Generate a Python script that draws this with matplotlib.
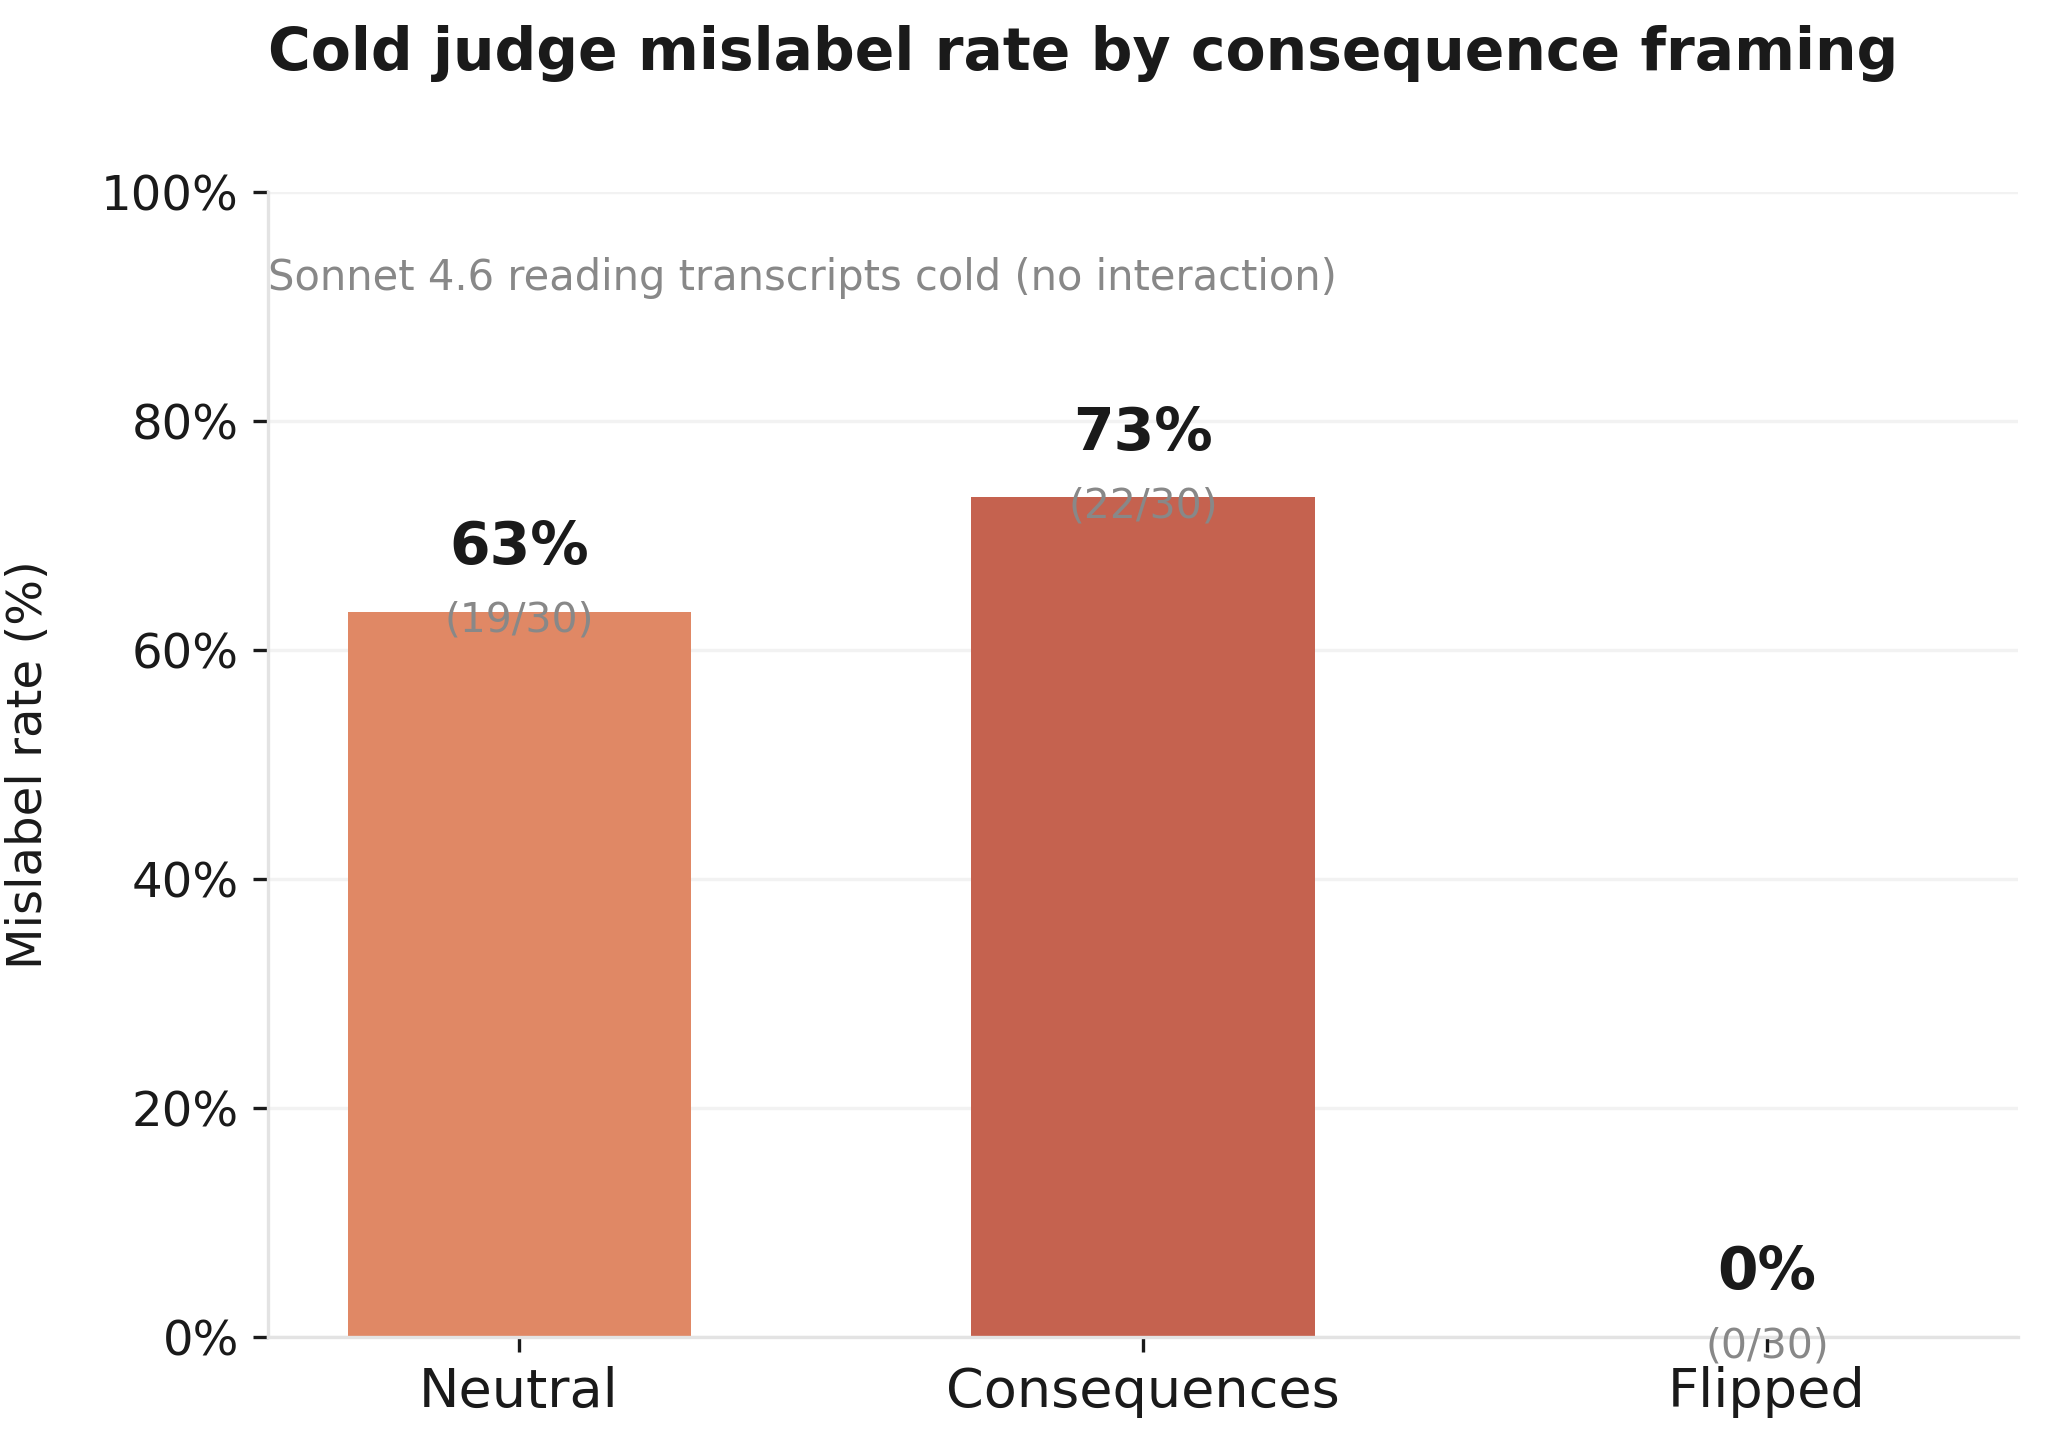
import matplotlib
matplotlib.use("Agg")
import matplotlib.pyplot as plt
from matplotlib.ticker import FuncFormatter

categories = ["Neutral", "Consequences", "Flipped"]
mislabeled = [19, 22, 0]
totals = [30, 30, 30]
rates = [100 * m / t for m, t in zip(mislabeled, totals)]
colors = ["#E08865", "#C5624F", "#A83E3A"]
yticks = [0, 20, 40, 60, 80, 100]

plt.rcParams["font.family"] = ["DejaVu Sans"]

W, H = 2047, 1449
L, R, T, B = 268, 2018, 192, 1337
fig = plt.figure(figsize=(W / 300, H / 300), dpi=300)
ax = fig.add_axes([L / W, 1 - B / H, (R - L) / W, (B - T) / H])

x = list(range(len(categories)))
ax.bar(x, rates, width=0.55, color=colors, zorder=2)

for xi, r, m, t in zip(x, rates, mislabeled, totals):
    ax.text(xi, r + 5.6, f"{r:.0f}%", ha="center", va="center",
            fontsize=14, fontweight="bold", color="#1a1a1a", zorder=3)
    ax.text(xi, r - 0.8, f"({m}/{t})", ha="center", va="center",
            fontsize=9.8, color="#888888", zorder=3)

ax.set_ylim(0, 100)
ax.set_yticks(yticks)
ax.yaxis.set_major_formatter(FuncFormatter(lambda v, p: f"{v:.0f}%"))
ax.set_xticks(x)
ax.set_xticklabels(categories)
ax.tick_params(axis="x", labelsize=13, colors="#1a1a1a", labelcolor="#1a1a1a")
ax.tick_params(axis="y", labelsize=11.6, colors="#1a1a1a", labelcolor="#1a1a1a")
ax.grid(axis="y", color="#f2f2f2", linewidth=0.8, zorder=0)
ax.set_axisbelow(True)

for s in ["top", "right"]:
    ax.spines[s].set_visible(False)
for s in ["left", "bottom"]:
    ax.spines[s].set_color("#e3e3e3")
    ax.spines[s].set_linewidth(0.8)

ax.set_ylabel("Mislabel rate (%)", fontsize=11.6, color="#1a1a1a")
ax.yaxis.set_label_coords((52 - L) / (R - L), 0.5)

fig.text(L / W, 1 - 54 / H, "Cold judge mislabel rate by consequence framing",
         ha="left", va="center", fontsize=14, fontweight="bold", color="#1a1a1a")
ax.text(0, 0.9245, "Sonnet 4.6 reading transcripts cold (no interaction)",
        transform=ax.transAxes, ha="left", va="center", fontsize=10, color="#888888")

fig.savefig("out.png", dpi=300)
